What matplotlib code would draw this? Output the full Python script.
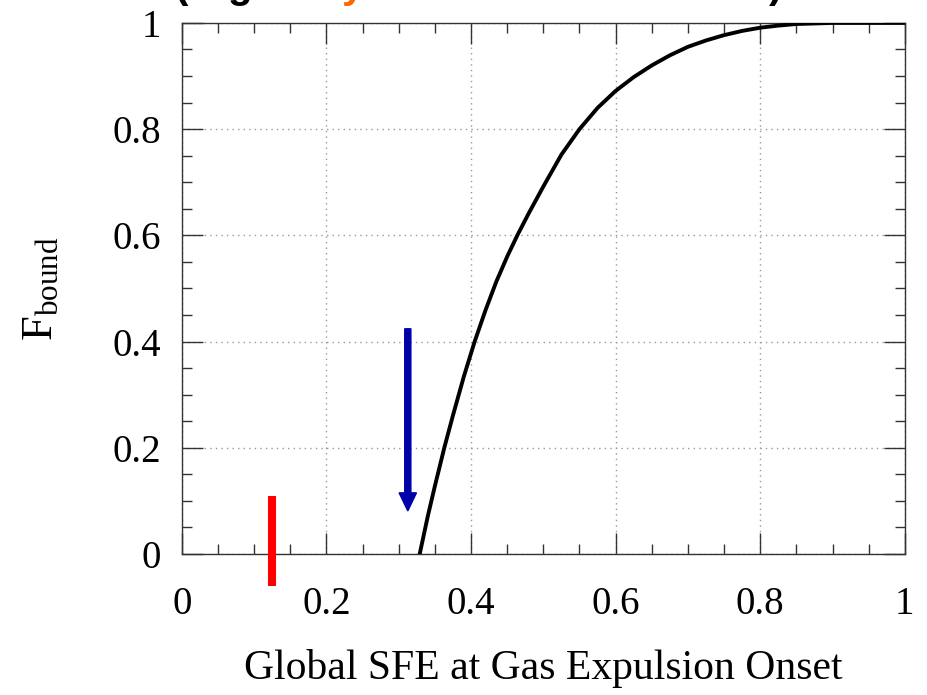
import matplotlib
matplotlib.use('Agg')
import matplotlib.pyplot as plt
from matplotlib.ticker import MultipleLocator

#	data
sfe = [0.329, 0.34, 0.35, 0.363, 0.375, 0.39, 0.405, 0.42, 0.435, 0.45,
	0.464, 0.48, 0.50, 0.525, 0.55, 0.575, 0.60, 0.625, 0.65, 0.675,
	0.70, 0.725, 0.75, 0.775, 0.80, 0.825, 0.85, 0.875, 0.90, 0.95, 1.0]
fbound = [0.0, 0.07, 0.128, 0.20, 0.261, 0.334, 0.40, 0.459, 0.513, 0.56,
	0.60, 0.642, 0.692, 0.752, 0.80, 0.84, 0.872, 0.898, 0.92, 0.939,
	0.955, 0.967, 0.977, 0.985, 0.991, 0.995, 0.998, 0.999, 1.0, 1.0, 1.0]

red_x = 0.124
red_y = [-0.06, 0.11]

arrow_x = 0.3125
arrow_y = [0.424, 0.081]

ticks = [0, 0.2, 0.4, 0.6, 0.8, 1]
tick_labels = ['0', '0.2', '0.4', '0.6', '0.8', '1']

plt.rcParams['font.family'] = ['Liberation Serif', 'DejaVu Serif']
plt.rcParams['mathtext.fontset'] = 'custom'
plt.rcParams['mathtext.rm'] = 'Liberation Serif'

fig = plt.figure(figsize=(9.28, 6.95), dpi=100)
ax = fig.add_axes([0.196, 0.203, 0.779, 0.764])

#	curve
ax.plot(sfe, fbound, color='black', lw=2.8, zorder=3)

#	red marker below/above the axis
ax.plot([red_x, red_x], red_y, color='#ff0000', lw=5.8, solid_capstyle='butt',
	clip_on=False, zorder=4)

#	blue arrow
ax.arrow(arrow_x, arrow_y[0], 0, arrow_y[1] - arrow_y[0], width=0.0085,
	head_width=0.024, head_length=0.034, length_includes_head=True,
	color='#0000a8', zorder=4)

ax.set_xlim(0, 1)
ax.set_ylim(0, 1)
ax.set_xticks(ticks)
ax.set_xticklabels(tick_labels)
ax.set_yticks(ticks)
ax.set_yticklabels(tick_labels)
ax.xaxis.set_minor_locator(MultipleLocator(0.05))
ax.yaxis.set_minor_locator(MultipleLocator(0.05))
ax.tick_params(which='both', direction='in', top=True, right=True,
	color='#333333', width=1.0)
ax.tick_params(which='major', length=15, labelsize=28)
ax.tick_params(which='minor', length=7.5)
ax.tick_params(axis='x', which='major', pad=23)
ax.tick_params(axis='y', which='major', pad=15)

ax.grid(True, which='major', linestyle=(0, (1, 3)), color='#999999', lw=1.0)
for s in ax.spines.values():
	s.set_color('#333333')
	s.set_linewidth(1.0)

ax.set_xlabel('Global SFE at Gas Expulsion Onset', fontsize=30, labelpad=19)
ax.set_ylabel(r'$\mathrm{F_{bound}}$', fontsize=32, labelpad=37)

#	cut off title pieces at the very top
title_font = dict(family='Liberation Sans', weight='bold', fontsize=29,
	va='baseline', ha='center')
fig.text(182 / 928, 1.0 + 2 / 695, '(', color='black', **title_font)
fig.text(240 / 928, 1.0 + 2 / 695, 'g', color='black', **title_font)
fig.text(353 / 928, 1.0 + 2 / 695, 'y', color='#ff6600', **title_font)
fig.text(776 / 928, 1.0 + 2 / 695, ')', color='black', **title_font)

fig.savefig('out.png', dpi=100)
